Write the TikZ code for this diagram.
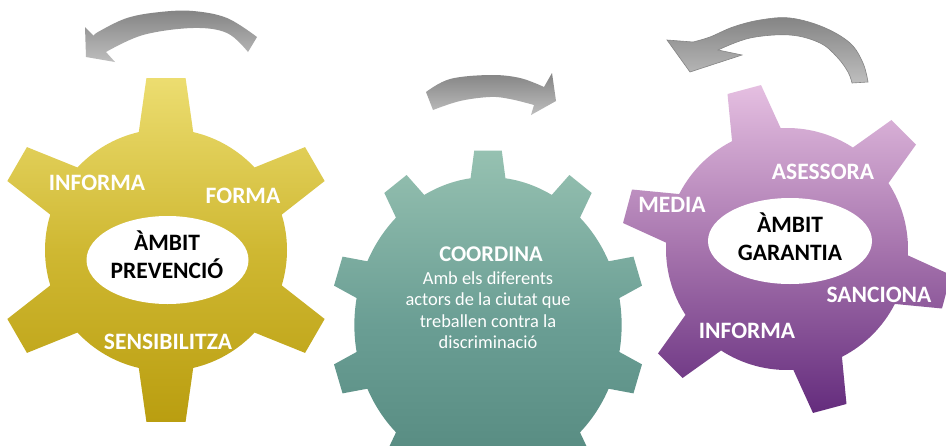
\documentclass[tikz,border=0pt]{standalone}
\usepackage{fontspec}
\setmainfont{Carlito}
\usetikzlibrary{shapes.geometric}
\definecolor{yelT}{RGB}{236,221,112}
\definecolor{yelM}{RGB}{207,184,50}
\definecolor{yelB}{RGB}{186,158,16}
\definecolor{tealT}{RGB}{150,193,177}
\definecolor{tealM}{RGB}{106,158,148}
\definecolor{tealB}{RGB}{82,134,124}
\definecolor{purT}{RGB}{229,191,225}
\definecolor{purM}{RGB}{166,116,173}
\definecolor{purB}{RGB}{100,44,125}
\definecolor{arrD}{RGB}{132,132,132}
\definecolor{arrL}{RGB}{190,190,190}
\newcommand{\gearpath}[6]{%
  ({#2-#6}:#4pt)
  \foreach \k [evaluate=\k as \ang using #2+(\k-1)*360/#1] in {1,...,#1}{
    -- ({\ang-#6}:#4pt) -- ({\ang-#5}:#3pt) -- ({\ang+#5}:#3pt) -- ({\ang+#6}:#4pt)
    arc[start angle={\ang+#6}, end angle={\ang+360/#1-#6}, radius=#4pt]
  } -- cycle}
\begin{document}
\begin{tikzpicture}[x=1pt,y=1pt,
  lbl/.style={text=white, font=\bfseries\fontsize{23.5}{27}\selectfont, inner sep=0pt, anchor=base},
  amb/.style={text=black, font=\bfseries\fontsize{23.5}{27}\selectfont, inner sep=0pt, anchor=base},
  ttl/.style={text=white, font=\bfseries\fontsize{22.5}{26}\selectfont, inner sep=0pt, anchor=base},
  body/.style={text=white, font=\fontsize{18.4}{21}\selectfont, inner sep=0pt, anchor=base},
  oval/.style={ellipse, fill=white, inner sep=0pt},
  arrow/.style={top color=arrD, bottom color=arrL}]
\useasboundingbox (0,0) rectangle (946,-445);
\clip (0,0) rectangle (946,-445);
\fill[white] (0,0) rectangle (946,-445);

% curved arrows
\shade[arrow]
  (257,-37) -- plot[smooth, tension=0.6] coordinates {(257,-37) (227,-18) (193,-11) (160,-12) (127,-18) (98,-32) (94,-36)}
  -- (85,-27) -- (86,-57) -- (115,-62) -- (106,-52)
  -- plot[smooth, tension=0.6] coordinates {(106,-52) (143,-35) (193,-28) (227,-33) (248,-52)} -- cycle;
\shade[arrow]
  (426,-92) -- plot[smooth, tension=0.6] coordinates {(426,-92) (450,-79) (490,-75) (520,-78) (544,-87)}
  -- (552,-73) -- (556,-101) -- (531,-115) -- (534,-105)
  -- plot[smooth, tension=0.6] coordinates {(534,-105) (510,-99) (490,-97) (460,-101) (433,-110)} -- cycle;
\shade[arrow, draw=arrD, line width=0.6pt]
  (868,-82) -- plot[smooth, tension=0.6] coordinates {(868,-82) (863,-63) (850,-43) (823,-27) (790,-18) (760,-20) (733,-27) (710,-37) (693,-42)}
  -- (667,-40) -- (690,-72) -- (742,-55) -- (718,-50)
  -- plot[smooth, tension=0.6] coordinates {(718,-50) (750,-38) (790,-35) (820,-43) (837,-57) (848,-72) (852,-83)} -- cycle;

% gears
\begin{scope}[shift={(166,-250)}]
  \shade[top color=yelT, bottom color=yelB, middle color=yelM] \gearpath{6}{90}{173}{121}{6.5}{13};
\end{scope}
\begin{scope}[shift={(488,-325)}, xscale=0.903]
  \shade[top color=tealT, bottom color=tealB, middle color=tealM] \gearpath{10}{90}{175}{148}{5}{7.5};
\end{scope}
\begin{scope}[shift={(787,-249)}]
  \shade[top color=purT, bottom color=purB, middle color=purM] \gearpath{6}{105}{166}{121}{6}{12};
\end{scope}

% left gear
\node[oval, minimum width=162pt, minimum height=88pt] (ovalL) at (167.5,-260) {};
\node[amb] (ambL) at (167,-250) {ÀMBIT};
\node[amb] (prev) at (167,-278) {PREVENCIÓ};
\node[lbl] (infL) at (97,-190) {INFORMA};
\node[lbl] (forma) at (243,-203.5) {FORMA};
\node[lbl] (sens) at (168,-349) {SENSIBILITZA};

% middle gear
\node[ttl] (coord) at (491,-261) {COORDINA};
\node[body] (b1) at (488,-284) {Amb els diferents};
\node[body] (b2) at (488,-305.5) {actors de la ciutat que};
\node[body] (b3) at (488,-327) {treballen contra la};
\node[body] (b4) at (488,-348) {discriminació};

% right gear
\node[oval, minimum width=164pt, minimum height=86pt] (ovalR) at (790,-241) {};
\node[amb] (ambR) at (790,-232) {ÀMBIT};
\node[amb] (gar) at (790,-260) {GARANTIA};
\node[lbl] (ases) at (823,-179.5) {ASESSORA};
\node[lbl] (media) at (672,-212) {MEDIA};
\node[lbl] (sanc) at (879,-302) {SANCIONA};
\node[lbl] (infR) at (747,-338) {INFORMA};
\end{tikzpicture}
\end{document}
